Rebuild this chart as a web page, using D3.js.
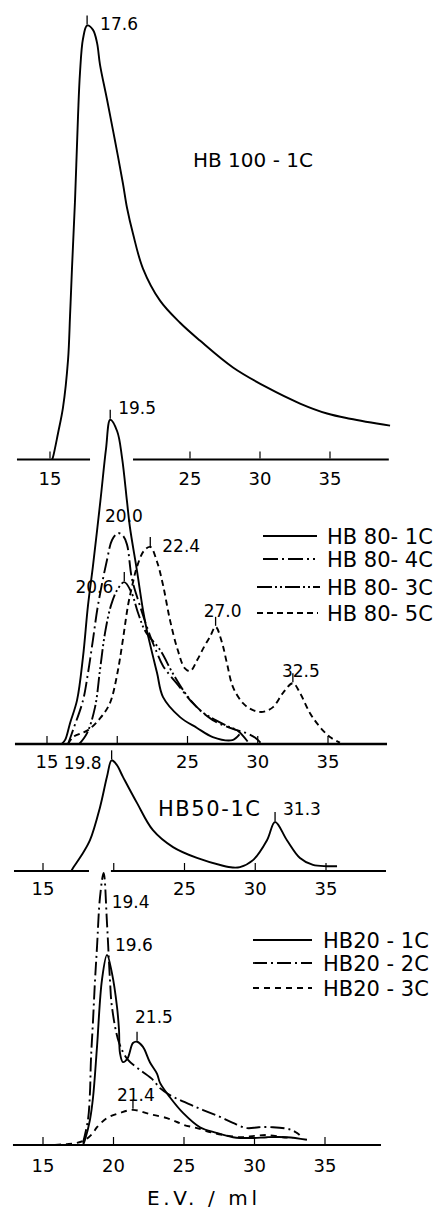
<!DOCTYPE html>
<html>
<head>
<meta charset="utf-8">
<script src="https://cdn.jsdelivr.net/npm/d3@7"></script>
<style>
  body { margin: 0; background: #fff; }
  text { font-family: "DejaVu Sans", sans-serif; fill: #000; }
</style>
</head>
<body>
<svg id="chart"></svg>
<script>
// elution volume (ml) vs detector response (relative, HB100-1C peak = 100)
var hb100_1C = [[15.15,0],[15.21,0.5],[15.57,6],[15.93,12],[16.29,23],[16.43,33],[16.57,44],[16.79,60],[17.0,79],[17.14,89],[17.36,97],[17.65,100],[18.07,99],[18.36,96],[18.57,91],[19.07,83],[19.64,73.5],[20.21,63.6],[20.5,58],[20.93,52],[21.64,44],[22.86,36.6],[24.29,31.5],[25.71,27.4],[28.07,21.2],[30.5,16.6],[32.86,12.9],[34.79,10.6],[36.43,9.4],[39.29,7.8]];

var hb80_1C = [[16.05,0],[16.3,1],[16.64,4.8],[17.14,10.1],[17.56,20],[17.92,32],[18.27,41],[18.8,56],[19.2,68],[19.5,74.7],[20.0,72],[20.34,66],[20.69,56],[20.9,50],[21.4,40],[21.83,30.9],[22.12,26],[22.83,16.4],[23.26,10.8],[24.47,6.2],[25.68,3.7],[26.8,1.6],[28.2,0.9],[28.7,2.2]];
var hb80_4C = [[16.5,0],[16.85,3.2],[17.56,10],[17.92,16.4],[18.27,24],[18.63,32],[19.27,42.4],[19.63,47],[20.05,48.6],[20.4,48],[20.69,46],[21.05,38],[21.6,32],[22.33,25],[22.83,21],[23.26,18],[24.47,13],[25.5,9],[26.8,5.5],[28.5,3.2],[29.2,2.5],[29.8,1.5],[30.2,0.3]];
var hb80_3C = [[17.3,0],[17.85,2.5],[18.42,8.5],[18.77,17],[19.13,25.6],[19.56,32],[20.0,35.5],[20.5,37.3],[21.0,35],[21.5,30],[22.0,26],[23.04,21.7],[24.0,16],[25.0,11],[26.0,7.5],[27.0,5.5],[28.0,3.9],[28.6,3],[29.3,0.5]];
var hb80_5C = [[16.5,0],[16.85,1.6],[17.92,3.2],[18.8,6],[19.34,8.5],[19.63,10.8],[20.05,17],[20.4,24],[20.77,32],[21.1,37],[21.4,40.8],[21.9,44.5],[22.35,45.4],[22.83,42],[23.26,36.6],[23.75,28.6],[24.3,21.7],[24.8,17.5],[25.2,16.8],[25.7,19.4],[26.2,22.5],[26.6,24.7],[27.0,27],[27.46,23.3],[27.8,18.7],[28.24,13.1],[28.95,9.4],[29.66,7.8],[30.37,7.4],[31.09,8.5],[31.8,11.8],[32.5,14],[33.0,11.8],[33.72,7.1],[34.43,3.9],[35.14,1.6],[35.85,0.3]];

var hb50_1C = [[17.0,0],[17.12,0.7],[17.7,3.5],[18.32,7.1],[19.03,14.7],[19.52,21.7],[19.85,25.5],[20.2,24.5],[20.65,21.7],[21.64,15.7],[22.77,9.4],[24.19,5.5],[25.88,3],[27.72,1.2],[28.4,0.8],[28.92,0.9],[29.84,2.5],[30.83,7.1],[31.4,11.3],[32.24,7.1],[33.16,3],[34.08,1.4],[35.07,1.1],[35.78,1.1]];

var hb20_1C = [[17.84,0],[17.98,1.2],[18.33,5.8],[18.55,11],[18.83,22.6],[19.18,38],[19.54,43.8],[19.89,39.6],[20.25,31.8],[20.39,26.5],[20.46,21.2],[20.67,19.1],[21.0,20],[21.38,23.5],[21.67,23.8],[22.09,22.6],[22.59,19],[23.09,16.4],[23.3,14.3],[24.0,11],[24.93,7.4],[26.13,4.1],[27.3,2.8],[28.48,1.8],[29.9,1.6],[30.9,1.8],[32.3,1.8],[33.72,1.2]];
var hb20_2C = [[17.84,0.5],[18.19,5.8],[18.33,12],[18.4,19.6],[18.55,28.8],[18.69,38],[18.83,45.6],[19.04,57],[19.3,62.7],[19.54,51],[19.75,38],[19.89,31.8],[20.4,23.5],[21.03,19.6],[21.88,17.3],[22.8,15],[23.3,13.1],[24.0,11.5],[25.8,8.8],[27.55,6.5],[28.47,5.1],[29.47,3.9],[30.3,4.1],[31.3,4.1],[32.5,3.6],[33.0,2.8],[33.2,2.3]];
var hb20_3C = [[15.85,0],[16.6,0.2],[17.41,0.5],[18.0,1.2],[18.55,2.8],[18.83,4.1],[19.54,6.2],[20.46,7.4],[21.38,8.1],[22.59,7.1],[23.79,6.2],[24.5,5.3],[25.0,4.6],[25.92,3.9],[27.06,2.8],[28.97,1.8],[30.0,2.1],[30.89,2.3],[32.0,1.8],[32.73,1.6]];

var panelTitles = ["HB 100 - 1C", "", "HB50-1C", ""];
var legend80 = ["HB 80- 1C", "HB 80- 4C", "HB 80- 3C", "HB 80- 5C"];
var legend20 = ["HB20 - 1C", "HB20 - 2C", "HB20 - 3C"];

var peakText  = ["17.6","19.5","20.0","20.6","22.4","27.0","32.5","19.8","31.3","19.4","19.6","21.5","21.4"];
var peakEV    = [17.65, 19.5, 20.05, 20.5, 22.35, 27.0, 32.5, 19.85, 31.4, 19.3, 19.54, 21.67, 21.38];
var peakH     = [100, 74.7, 48.6, 37.3, 45.4, 27, 14, 25.5, 11.3, 62.7, 43.8, 23.8, 8.1];
var peakPanel = [0, 1, 1, 1, 1, 1, 1, 2, 2, 3, 3, 3, 3];

// ---- layout ----
var W = 442, H = 1209;
var svg = d3.select("#chart").attr("width", W).attr("height", H);

var panels = [
  { base: 459.5, x15: 50, x35: 330, axis: [[12.64,17.86],[20.93,39.2]], ticks: [15,25,30,35], labels: [15,25,30,35], labelDy: 18.5 },
  { base: 744,   x15: 47, x35: 328, axis: [[12.72,39.2]],               ticks: [15,20,25,30,35], labels: [15,25,30,35], labelDy: 17 },
  { base: 871,   x15: 43, x35: 326, axis: [[12.95,18.25],[19.8,39.24]], ticks: [15,20,25,30,35], labels: [15,25,30,35], labelDy: 17 },
  { base: 1145,  x15: 43, x35: 325, axis: [[12.87,38.97]],              ticks: [15,20,25,30,35], labels: [15,20,25,30,35], labelDy: 20 }
];
panels.forEach(function (p) {
  p.x = d3.scaleLinear().domain([15, 35]).range([p.x15, p.x35]);
  p.y = d3.scaleLinear().domain([0, 100]).range([p.base, p.base - 434]);
});

var series = [
  { panel: 0, data: hb100_1C, dash: null },
  { panel: 1, data: hb80_1C, dash: null },
  { panel: 1, data: hb80_4C, dash: "15,4,2,4" },
  { panel: 1, data: hb80_3C, dash: "15,3,2,3,2,3" },
  { panel: 1, data: hb80_5C, dash: "6,4" },
  { panel: 2, data: hb50_1C, dash: null },
  { panel: 3, data: hb20_1C, dash: null },
  { panel: 3, data: hb20_2C, dash: "14,4,2,4" },
  { panel: 3, data: hb20_3C, dash: "6,5" }
];

// axes
panels.forEach(function (p, i) {
  var g = svg.append("g");
  g.selectAll("line.ax").data(p.axis).enter().append("line")
    .attr("x1", function (d) { return p.x(d[0]); })
    .attr("x2", function (d) { return p.x(d[1]); })
    .attr("y1", p.base).attr("y2", p.base)
    .attr("stroke", "#000").attr("stroke-width", i == 1 ? 2.6 : 2.2);
  g.selectAll("line.tk").data(p.ticks).enter().append("line")
    .attr("x1", p.x).attr("x2", p.x)
    .attr("y1", p.base - 1).attr("y2", p.base - 8)
    .attr("stroke", "#000").attr("stroke-width", 1.2);
  g.selectAll("text").data(p.labels).enter().append("text")
    .attr("x", p.x).attr("y", p.base + p.labelDy + 6.5)
    .attr("text-anchor", "middle").attr("font-size", 18)
    .text(function (d) { return d; });
});

// curves
series.forEach(function (s) {
  var p = panels[s.panel];
  var line = d3.line()
    .x(function (d) { return p.x(d[0]); })
    .y(function (d) { return Math.min(p.base, p.y(d[1])); })
    .curve(d3.curveCatmullRom.alpha(0.5));
  svg.append("path").datum(s.data)
    .attr("d", line)
    .attr("fill", "none").attr("stroke", "#000")
    .attr("stroke-width", 1.9)
    .attr("stroke-linejoin", "round")
    .attr("stroke-dasharray", s.dash);
});

// peak labels: offset from peak [dx, dy(center), anchor, marker]
var peakLayout = [
  [13, -2, "start", true], [8, -12, "start", true], [6, -17, "middle", false], [-11, 5, "end", true],
  [12, -1, "start", true], [7, -16, "middle", true], [8, -12, "middle", true],
  [-10, 2, "end", true], [8, -13, "start", true],
  [8, 29, "start", false], [8, -10, "start", false], [-2, -25, "start", true], [-16, -15, "start", true]
];
peakText.forEach(function (t, i) {
  var p = panels[peakPanel[i]], L = peakLayout[i];
  var px = p.x(peakEV[i]), py = p.y(peakH[i]);
  if (L[3]) {
    svg.append("line").attr("x1", px).attr("x2", px)
      .attr("y1", py - 1).attr("y2", py - 10)
      .attr("stroke", "#000").attr("stroke-width", 1.3);
  }
  svg.append("text").attr("x", px + L[0]).attr("y", py + L[1] + 6.2)
    .attr("text-anchor", L[2]).attr("font-size", 17).text(t);
});

// panel titles
svg.append("text").attr("x", 193).attr("y", 160 + 7.3).attr("font-size", 20).text(panelTitles[0]);
svg.append("text").attr("x", 158).attr("y", 808 + 7.5).attr("font-size", 21)
  .attr("textLength", 102).attr("lengthAdjust", "spacing").text(panelTitles[2]);

// legends
function legend(names, dashes, ys, lx, tx, fs) {
  names.forEach(function (n, i) {
    svg.append("line").attr("x1", lx[i][0]).attr("x2", lx[i][1])
      .attr("y1", ys[i]).attr("y2", ys[i])
      .attr("stroke", "#000").attr("stroke-width", 1.8)
      .attr("stroke-dasharray", dashes[i]);
    svg.append("text").attr("x", tx).attr("y", ys[i] + fs * 0.365)
      .attr("font-size", fs).text(n);
  });
}
legend(legend80, [null, "15,4,2,4", "15,3,2,3,2,3", "6,4"],
  [536, 559, 587, 613], [[263,317],[263,315],[257,320],[257,318]], 327, 21);
legend(legend20, [null, "14,4,2,4", "6,5"],
  [940, 963, 988], [[253,312],[253,312],[253,312]], 323, 21);

// x axis title
svg.append("text").attr("x", 202).attr("y", 1198 + 7.3).attr("text-anchor", "middle")
  .attr("font-size", 20).attr("textLength", 110).attr("lengthAdjust", "spacing")
  .text("E.V. / ml");
</script>
</body>
</html>
